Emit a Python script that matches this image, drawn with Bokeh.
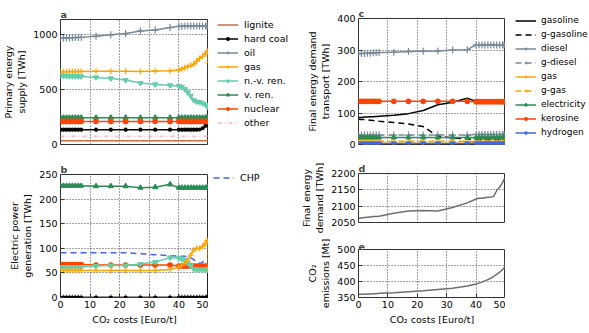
from bokeh.plotting import figure
from bokeh.layouts import row, column
from bokeh.models import Legend, LegendItem, FixedTicker, Range1d
from bokeh.embed import file_html
from bokeh.resources import INLINE

FONT = "DejaVu Sans"

# CO2 costs [Euro/t]
X = [0, 1, 2, 3, 4, 5, 6, 7, 12, 17, 22, 27, 32, 37, 40, 41, 42, 43, 44, 45, 46, 47, 48, 49, 49.5, 49.9, 50]

# Panel a: primary energy supply [TWh]
lignite_a = [35, 35, 35, 35, 35, 35, 35, 35, 35, 35, 35, 35, 35, 35, 35, 35, 35, 35, 35, 35, 35, 35, 35, 35, 35, 35, 35]
hardcoal_a = [135, 135, 135, 135, 135, 135, 135, 135, 135, 135, 135, 135, 135, 135, 135, 135, 135, 135, 135, 135, 135, 137, 148, 172, 190, 205, 335]
oil_a = [970, 971, 972, 973, 974, 975, 976, 977, 988, 1000, 1012, 1036, 1045, 1066, 1078, 1079, 1080, 1080, 1080, 1080, 1080, 1080, 1080, 1080, 1080, 1080, 1080]
gas_a = [664, 664, 664, 665, 665, 665, 665, 666, 667, 668, 668, 666, 670, 672, 680, 688, 700, 712, 722, 733, 760, 785, 805, 830, 848, 850, 750]
nvren_a = [628, 627, 626, 625, 624, 623, 622, 621, 612, 603, 588, 560, 548, 540, 532, 525, 505, 475, 445, 405, 392, 388, 375, 362, 352, 345, 340]
vren_a = [245, 245, 245, 245, 245, 245, 245, 245, 245, 245, 245, 245, 245, 245, 245, 245, 245, 245, 245, 245, 245, 245, 245, 245, 245, 245, 245]
nuclear_a = [210, 210, 210, 210, 210, 210, 210, 210, 210, 210, 210, 210, 210, 210, 210, 210, 210, 210, 210, 210, 210, 210, 210, 210, 210, 210, 210]
other_a = [75, 75, 75, 75, 75, 75, 75, 75, 75, 75, 75, 75, 75, 75, 75, 75, 75, 75, 75, 75, 75, 75, 75, 75, 75, 75, 75]

# Panel b: electric power generation [TWh]
lignite_b = [0, 0, 0, 0, 0, 0, 0, 0, 0, 0, 0, 0, 0, 0, 0, 0, 0, 0, 0, 0, 0, 0, 0, 0, 0, 0, 0]
hardcoal_b = [0, 0, 0, 0, 0, 0, 0, 0, 0, 0, 0, 0, 0, 0, 0, 0, 0, 0, 0, 0, 0, 0, 0, 0, 0, 2, 62]
oil_b = [0, 0, 0, 0, 0, 0, 0, 0, 0, 0, 0, 0, 0, 0, 0, 0, 0, 0, 0, 0, 0, 0, 0, 0, 0, 0, 0]
gas_b = [55, 55, 55, 55, 55, 55, 55, 55, 55, 55, 55, 55, 55, 57, 62, 65, 70, 77, 86, 97, 100, 100, 104, 110, 115, 116, 60]
nvren_b = [62, 62, 62, 62, 62, 62, 62, 62, 64, 65, 65, 68, 72, 81, 80, 79, 76, 70, 64, 58, 57, 57, 57, 57, 57, 57, 57]
vren_b = [227, 227, 227, 227, 227, 227, 227, 227, 226, 226, 226, 223, 224, 230, 223, 223, 223, 223, 223, 223, 223, 223, 223, 223, 223, 223, 223]
nuclear_b = [67, 67, 67, 67, 67, 67, 67, 67, 66, 66, 66, 66, 66, 66, 64, 64, 64, 64, 64, 64, 64, 64, 64, 64, 64, 64, 64]
chp_b = [91, 91, 91, 91, 91, 91, 91, 91, 91, 91, 91, 89, 87, 85, 84, 84, 84, 83, 81, 77, 72, 69, 72, 76, 77, 77, 77]

# Panel c: final energy demand transport [TWh]
gasoline_c = [86, 86, 87, 87, 88, 88, 89, 90, 93, 98, 108, 126, 134, 147, 137, 136, 136, 136, 136, 136, 136, 136, 136, 136, 136, 136, 136]
ggasoline_c = [80, 79, 79, 78, 77, 76, 75, 74, 70, 65, 57, 26, 21, 18, 15, 15, 15, 15, 15, 15, 15, 15, 15, 15, 15, 15, 15]
diesel_c = [288, 289, 289, 290, 290, 291, 291, 292, 293, 295, 296, 297, 300, 301, 316, 316, 316, 316, 316, 316, 316, 316, 316, 316, 316, 316, 316]
gdiesel_c = [30, 30, 30, 30, 30, 30, 30, 30, 30, 30, 30, 30, 30, 30, 32, 32, 32, 32, 32, 32, 32, 32, 32, 32, 32, 32, 32]
gas_c = [4, 4, 4, 4, 4, 4, 4, 4, 4, 4, 4, 4, 4, 4, 7, 7, 7, 7, 7, 7, 7, 7, 7, 7, 7, 7, 7]
ggas_c = [10, 10, 10, 10, 10, 10, 10, 10, 10, 10, 10, 10, 10, 10, 9, 9, 9, 9, 9, 9, 9, 9, 9, 9, 9, 9, 9]
electricity_c = [22, 22, 22, 22, 22, 22, 22, 22, 22, 22, 22, 22, 22, 22, 22, 22, 22, 22, 22, 22, 22, 22, 22, 22, 22, 22, 22]
kerosine_c = [137, 137, 137, 137, 137, 137, 137, 137, 137, 137, 137, 137, 137, 137, 136, 136, 136, 136, 136, 136, 136, 136, 136, 136, 136, 136, 136]
hydrogen_c = [3, 3, 3, 3, 3, 3, 3, 3, 3, 3, 3, 3, 3, 3, 3, 3, 3, 3, 3, 3, 3, 3, 3, 3, 3, 3, 3]

# Panel d: final energy demand [TWh]
final_d = [2063, 2064, 2065, 2066, 2067, 2068, 2068, 2069, 2078, 2085, 2087, 2085, 2096, 2110, 2122, 2124, 2124, 2126, 2127, 2128, 2130, 2148, 2158, 2172, 2182, 2182, 2178]

# Panel e: CO2 emissions [Mt]
co2_e = [359, 360, 360, 361, 361, 362, 362, 363, 365, 368, 371, 375, 379, 386, 392, 395, 398, 402, 406, 410, 416, 422, 429, 437, 442, 448, 470]

X_TICKS = [0, 10, 20, 30, 40, 50]

C_LIGNITE = "#c07050"
C_COAL = "#000000"
C_OIL = "#778899"
C_GAS = "#ffa500"
C_NVREN = "#66cdaa"
C_VREN = "#2e8b57"
C_NUC = "#ff4500"
C_OTHER = "#ffb6c1"
C_CHP = "#4169e1"
C_GREY = "#6e6e6e"

DASH = "6 4"
DASHDOT = "4 3 1 3"

# series styles: (label, values, colour, marker, dash, marker size)
SER_A = [("lignite", lignite_a, C_LIGNITE, None, "solid", 0),
         ("hard coal", hardcoal_a, C_COAL, "circle", "solid", 3),
         ("oil", oil_a, C_OIL, "cross", "solid", 7),
         ("gas", gas_a, C_GAS, "cross", "solid", 6),
         ("n.-v. ren.", nvren_a, C_NVREN, "inverted_triangle", "solid", 5),
         ("v. ren.", vren_a, C_VREN, "triangle", "solid", 5),
         ("nuclear", nuclear_a, C_NUC, "circle", "solid", 4.5),
         ("other", other_a, C_OTHER, None, DASHDOT, 0)]
SER_B = [("lignite", lignite_b, C_LIGNITE, None, "solid", 0),
         ("oil", oil_b, C_OIL, "cross", "solid", 6),
         ("hard coal", hardcoal_b, C_COAL, "circle", "solid", 3),
         ("v. ren.", vren_b, C_VREN, "triangle", "solid", 5),
         ("CHP", chp_b, C_CHP, None, DASH, 0),
         ("nuclear", nuclear_b, C_NUC, "circle", "solid", 4.5),
         ("n.-v. ren.", nvren_b, C_NVREN, "inverted_triangle", "solid", 5),
         ("gas", gas_b, C_GAS, "cross", "solid", 6)]
SER_C = [("gasoline", gasoline_c, C_COAL, None, "solid", 0),
         ("g-gasoline", ggasoline_c, C_COAL, None, DASH, 0),
         ("diesel", diesel_c, C_OIL, "cross", "solid", 7),
         ("g-diesel", gdiesel_c, C_OIL, "cross", DASH, 7),
         ("gas", gas_c, C_GAS, "cross", "solid", 6),
         ("g-gas", ggas_c, C_GAS, "cross", DASH, 6),
         ("electricity", electricity_c, C_VREN, "triangle", "solid", 5),
         ("kerosine", kerosine_c, C_NUC, "circle", "solid", 4.5),
         ("hydrogen", hydrogen_c, C_CHP, "inverted_triangle", "solid", 5)]


def make_fig(w, h, left, right, top, bottom, yr, yticks, ylabel, xlabel=None, letter=""):
    p = figure(width=w, height=h, output_backend="svg", toolbar_location=None,
               x_range=Range1d(0, 50), y_range=Range1d(yr[0], yr[1]),
               min_border_left=left, min_border_right=right,
               min_border_top=top, min_border_bottom=bottom)
    p.background_fill_color = "white"
    p.border_fill_color = "white"
    p.outline_line_color = "#333333"
    p.outline_line_width = 1
    p.xaxis.ticker = FixedTicker(ticks=X_TICKS)
    p.yaxis.ticker = FixedTicker(ticks=yticks)
    for ax in [p.xaxis[0], p.yaxis[0]]:
        ax.axis_line_color = None
        ax.major_tick_in = 4
        ax.major_tick_out = 0
        ax.major_tick_line_color = "#333333"
        ax.minor_tick_line_color = None
        ax.major_label_text_font = FONT
        ax.major_label_text_font_size = "9.5px"
        ax.major_label_text_color = "black"
        ax.major_label_standoff = 3
        ax.axis_label_text_font = FONT
        ax.axis_label_text_font_size = "9.5px"
        ax.axis_label_text_font_style = "normal"
        ax.axis_label_text_color = "black"
        ax.axis_label_standoff = 3
    p.yaxis.axis_label = ylabel
    if xlabel:
        p.xaxis.axis_label = xlabel
    else:
        p.xaxis.visible = False
    for g in [p.xgrid[0], p.ygrid[0]]:
        g.grid_line_color = "#444444"
        g.grid_line_dash = "1 2"
        g.grid_line_width = 1
    p.title.text = letter
    p.title.text_font = FONT
    p.title.text_font_size = "9.5px"
    p.title.text_font_style = "bold"
    p.title.align = "left"
    p.title.offset = 0
    p.title.standoff = 0
    return p


def draw(p, y, color, marker, dash, size):
    rs = [p.line(X, y, line_color=color, line_width=1.5, line_dash=dash)]
    if marker:
        rs.append(p.scatter(X, y, marker=marker, size=size, line_color=color,
                            fill_color=color, line_width=1.2))
    return rs


def plot_all(p, ser):
    for label, y, color, marker, dash, size in ser:
        draw(p, y, color, marker, dash, size)


def legend_fig(w, h):
    # blank canvas that only holds legends; its x range lies outside the data
    q = figure(width=w, height=h, output_backend="svg", toolbar_location=None,
               x_range=Range1d(-3, -2), y_range=Range1d(0, 1), title=None,
               min_border_left=0, min_border_right=0, min_border_top=0, min_border_bottom=0)
    q.xaxis.visible = False
    q.yaxis.visible = False
    q.grid.visible = False
    q.outline_line_color = None
    q.background_fill_color = "white"
    q.border_fill_color = "white"
    return q


def add_legend(q, ser, loc, fs="9.5px", standoff=6):
    items = []
    for label, y, color, marker, dash, size in ser:
        items.append(LegendItem(label=label, renderers=draw(q, y, color, marker, dash, size)))
    leg = Legend(items=items, location=loc, orientation="vertical", border_line_color=None,
                 background_fill_alpha=0, padding=0, margin=0, spacing=0,
                 glyph_width=21, glyph_height=7, label_height=14, label_standoff=standoff,
                 label_text_font=FONT, label_text_font_size=fs, label_text_color="black")
    q.add_layout(leg)


CO2_LABEL = "CO\u2082 costs [Euro/t]"

# ---- panel a
fa = make_fig(208, 152, 60, 0, 19, 8, (0, 1140), [0, 500, 1000],
              "Primary energy\nsupply [TWh]", letter="a")
plot_all(fa, SER_A)

# ---- panel b
fb = make_fig(208, 181, 60, 0, 22, 36, (0, 250), [0, 50, 100, 150, 200, 250],
              "Electric power\ngeneration [TWh]", xlabel=CO2_LABEL, letter="b")
plot_all(fb, SER_B)

# legends for a and b
lab = legend_fig(90, 333)
add_legend(lab, SER_A, (9, 204))
add_legend(lab, [s for s in SER_B if s[0] == "CHP"], (5, 149))

# ---- panel c
fc = make_fig(207, 152, 59, 0, 18, 8, (0, 400), [0, 100, 200, 300, 400],
              "Final energy demand\ntransport [TWh]", letter="c")
plot_all(fc, SER_C)

# ---- panel d
fd = make_fig(207, 84, 59, 0, 21, 14, (2050, 2200), [2050, 2100, 2150, 2200],
              "Final energy\ndemand [TWh]", letter="d")
fd.line(X, final_d, line_color=C_GREY, line_width=1.5)

# ---- panel e
fe = make_fig(207, 97, 59, 0, 13, 36, (350, 500), [350, 400, 450, 500],
              "CO\u2082\nemissions [Mt]", xlabel=CO2_LABEL, letter="e")
fe.line(X, co2_e, line_color=C_GREY, line_width=1.5)

# legend for c
lc = legend_fig(84, 333)
add_legend(lc, SER_C, (10, 194), fs="9px", standoff=5)

layout = row(column(fa, fb, spacing=0), column(lab), column(fc, fd, fe, spacing=0), column(lc),
             spacing=0)

open("out.html", "w").write(file_html(layout, INLINE))
